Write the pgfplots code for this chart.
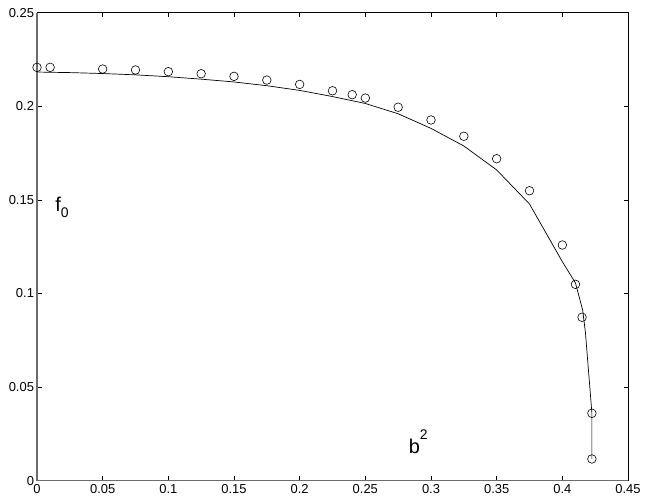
\documentclass[border=0pt]{standalone}
\usepackage{pgfplots}
\pgfplotsset{compat=1.18}
\usepackage{fontspec}
\setmainfont{Liberation Sans}
\begin{document}
\begin{tikzpicture}
\useasboundingbox (-37bp,-23.3bp) rectangle (609bp,480.7bp);
\begin{axis}[
  at={(0,0)}, anchor=south west,
  scale only axis, width=591bp, height=468bp,
  xmin=0, xmax=0.45, ymin=0, ymax=0.25,
  xtick={0,0.05,0.1,0.15,0.2,0.25,0.3,0.35,0.4,0.45},
  xticklabels={0,0.05,0.1,0.15,0.2,0.25,0.3,0.35,0.4,0.45},
  ytick={0,0.05,0.1,0.15,0.2,0.25},
  yticklabels={0,0.05,0.1,0.15,0.2,0.25},
  tick align=inside, major tick length=4.5bp,
  tick style={black, line width=0.5bp},
  axis line style={black, line width=0.6bp},
  tick label style={font=\fontsize{13}{15}\selectfont},
  /pgf/number format/assume math mode=true,
  xticklabel style={yshift=-0.5bp},
  yticklabel style={xshift=0.5bp},
  clip=false,
]
\addplot[black, line width=0.7bp, no markers] coordinates {
(0,0.2183) (0.025,0.2180) (0.05,0.2175) (0.075,0.2168) (0.1,0.2158)
(0.125,0.2145) (0.15,0.2130) (0.175,0.2110) (0.2,0.2085) (0.225,0.2052)
(0.25,0.2015) (0.275,0.1960) (0.3,0.1882) (0.325,0.1788) (0.35,0.1660)
(0.375,0.1478) (0.4,0.1170) (0.41,0.1056) (0.4155,0.0911) (0.4176,0.0790)
(0.4225,0.0362) (0.4225,0.0116)
};
\addplot[only marks, mark=o, mark size=4.3bp, mark options={line width=0.6bp, black}] coordinates {
(0,0.2208) (0.01,0.2208) (0.05,0.2199) (0.075,0.2194) (0.1,0.2185)
(0.125,0.2174) (0.15,0.2160) (0.175,0.2140) (0.2,0.2117) (0.225,0.2083)
(0.24,0.2062) (0.25,0.2044) (0.275,0.1995) (0.3,0.1927) (0.325,0.1840)
(0.35,0.1720) (0.375,0.1549) (0.4,0.1259) (0.41,0.1049) (0.415,0.0873)
(0.4225,0.0360) (0.4225,0.0116)
};
\draw[gray!85!black, line width=1.3bp] (rel axis cs:0,1) -- (rel axis cs:0,0) -- (rel axis cs:1,0);
\node[anchor=base west, inner sep=0pt, font=\fontsize{20}{24}\selectfont] at (axis cs:0.0138,0.1437) {f\raisebox{-5.6bp}{\fontsize{14}{16}\selectfont 0}};
\node[anchor=base west, inner sep=0pt, font=\fontsize{20}{24}\selectfont] at (axis cs:0.283,0.01464) {b\raisebox{14bp}{\fontsize{14}{16}\selectfont 2}};
\end{axis}
\end{tikzpicture}
\end{document}
